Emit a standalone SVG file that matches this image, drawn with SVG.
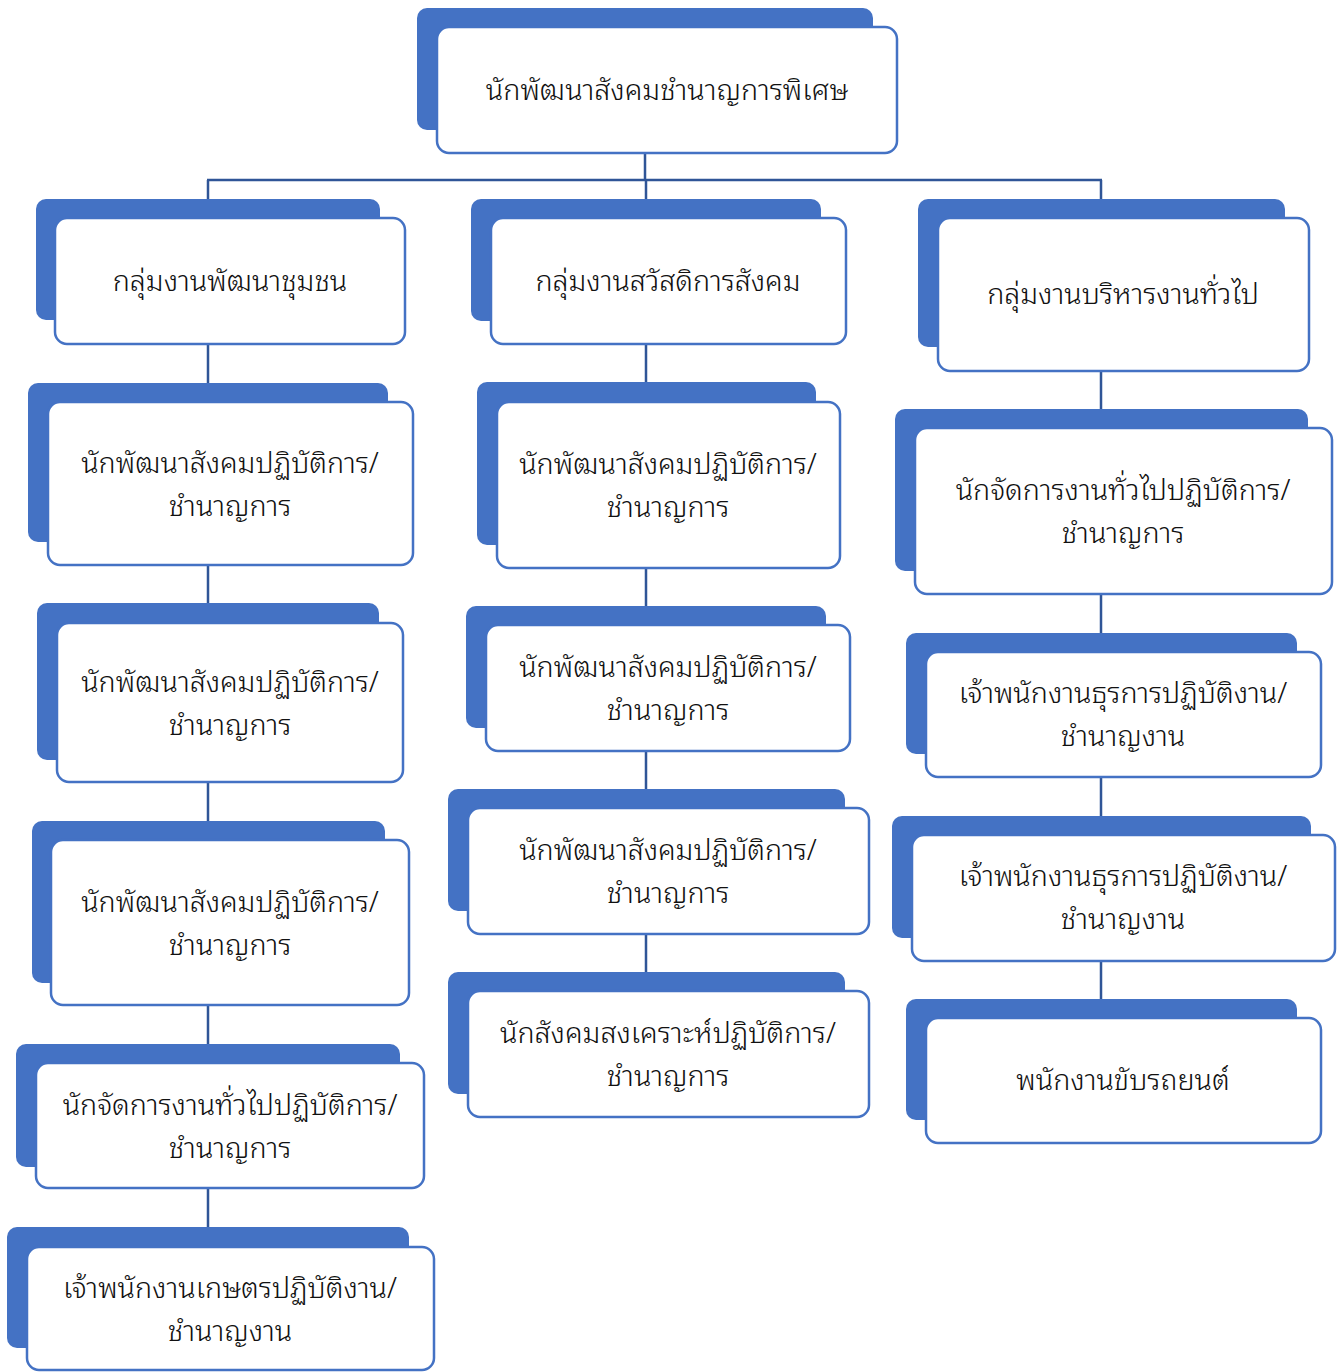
<svg xmlns="http://www.w3.org/2000/svg" width="1341" height="1372" viewBox="0 0 1341 1372">
<style>
.bk{fill:#4472C4;}
.fr{fill:#FFFFFF;stroke:#4472C4;stroke-width:2.5;}
.t{font-family:"Noto Sans Thai Looped","Noto Serif Thai","Noto Sans Thai","Noto Sans",sans-serif;font-size:28.7px;font-weight:300;fill:#111111;text-anchor:middle;}
.c{stroke:#2F5597;stroke-width:2.5;fill:none;}
</style>
<rect width="1341" height="1372" fill="#FFFFFF"/>
<g id="connectors">
<path class="c" d="M645 153V180M207 180H1102M208 180V199M646 180V199M1101 180V199"/>
<path class="c" d="M208 344V383M208 565V603M208 782V821M208 1005V1044M208 1188V1227"/>
<path class="c" d="M646 344V382M646 568V606M646 751V789M646 934V972"/>
<path class="c" d="M1101 371V409M1101 594V633M1101 777V816M1101 961V999"/>
</g>
<g id="n0"><rect class="bk" x="417" y="8" width="456" height="122" rx="10"/><rect class="fr" x="437" y="27" width="460" height="126" rx="12"/><text class="t" x="667" y="100">นักพัฒนาสังคมชำนาญการพิเศษ</text></g>
<g id="c1n1"><rect class="bk" x="36" y="199" width="344" height="121" rx="10"/><rect class="fr" x="55" y="218" width="350" height="126" rx="12"/><text class="t" x="230" y="291">กลุ่มงานพัฒนาชุมชน</text></g>
<g id="c1n2"><rect class="bk" x="28" y="383" width="360" height="159" rx="10"/><rect class="fr" x="48" y="402" width="365" height="163" rx="12"/><text class="t" x="230" y="473"><tspan x="230">นักพัฒนาสังคมปฏิบัติการ/</tspan><tspan x="230" y="516">ชำนาญการ</tspan></text></g>
<g id="c1n3"><rect class="bk" x="37" y="603" width="342" height="157" rx="10"/><rect class="fr" x="57" y="623" width="346" height="159" rx="12"/><text class="t" x="230" y="692"><tspan x="230">นักพัฒนาสังคมปฏิบัติการ/</tspan><tspan x="230" y="735">ชำนาญการ</tspan></text></g>
<g id="c1n4"><rect class="bk" x="32" y="821" width="353" height="162" rx="10"/><rect class="fr" x="51" y="840" width="358" height="165" rx="12"/><text class="t" x="230" y="912"><tspan x="230">นักพัฒนาสังคมปฏิบัติการ/</tspan><tspan x="230" y="955">ชำนาญการ</tspan></text></g>
<g id="c1n5"><rect class="bk" x="16" y="1044" width="384" height="123" rx="10"/><rect class="fr" x="36" y="1063" width="388" height="125" rx="12"/><text class="t" x="230" y="1115"><tspan x="230">นักจัดการงานทั่วไปปฏิบัติการ/</tspan><tspan x="230" y="1158">ชำนาญการ</tspan></text></g>
<g id="c1n6"><rect class="bk" x="7" y="1227" width="402" height="121" rx="10"/><rect class="fr" x="27" y="1247" width="407" height="123" rx="12"/><text class="t" x="230" y="1298"><tspan x="230">เจ้าพนักงานเกษตรปฏิบัติงาน/</tspan><tspan x="230" y="1341">ชำนาญงาน</tspan></text></g>
<g id="c2n1"><rect class="bk" x="471" y="199" width="350" height="122" rx="10"/><rect class="fr" x="491" y="218" width="355" height="126" rx="12"/><text class="t" x="668" y="291">กลุ่มงานสวัสดิการสังคม</text></g>
<g id="c2n2"><rect class="bk" x="477" y="382" width="339" height="163" rx="10"/><rect class="fr" x="497" y="402" width="343" height="166" rx="12"/><text class="t" x="668" y="474"><tspan x="668">นักพัฒนาสังคมปฏิบัติการ/</tspan><tspan x="668" y="517">ชำนาญการ</tspan></text></g>
<g id="c2n3"><rect class="bk" x="466" y="606" width="360" height="122" rx="10"/><rect class="fr" x="486" y="625" width="364" height="126" rx="12"/><text class="t" x="668" y="677"><tspan x="668">นักพัฒนาสังคมปฏิบัติการ/</tspan><tspan x="668" y="720">ชำนาญการ</tspan></text></g>
<g id="c2n4"><rect class="bk" x="448" y="789" width="397" height="122" rx="10"/><rect class="fr" x="468" y="808" width="401" height="126" rx="12"/><text class="t" x="668" y="860"><tspan x="668">นักพัฒนาสังคมปฏิบัติการ/</tspan><tspan x="668" y="903">ชำนาญการ</tspan></text></g>
<g id="c2n5"><rect class="bk" x="448" y="972" width="397" height="122" rx="10"/><rect class="fr" x="468" y="991" width="401" height="126" rx="12"/><text class="t" x="668" y="1043"><tspan x="668">นักสังคมสงเคราะห์ปฏิบัติการ/</tspan><tspan x="668" y="1086">ชำนาญการ</tspan></text></g>
<g id="c3n1"><rect class="bk" x="918" y="199" width="367" height="148" rx="10"/><rect class="fr" x="938" y="218" width="371" height="153" rx="12"/><text class="t" x="1123" y="304">กลุ่มงานบริหารงานทั่วไป</text></g>
<g id="c3n2"><rect class="bk" x="895" y="409" width="413" height="162" rx="10"/><rect class="fr" x="915" y="428" width="417" height="166" rx="12"/><text class="t" x="1123" y="500"><tspan x="1123">นักจัดการงานทั่วไปปฏิบัติการ/</tspan><tspan x="1123" y="543">ชำนาญการ</tspan></text></g>
<g id="c3n3"><rect class="bk" x="906" y="633" width="391" height="121" rx="10"/><rect class="fr" x="926" y="652" width="395" height="125" rx="12"/><text class="t" x="1123" y="703"><tspan x="1123">เจ้าพนักงานธุรการปฏิบัติงาน/</tspan><tspan x="1123" y="746">ชำนาญงาน</tspan></text></g>
<g id="c3n4"><rect class="bk" x="892" y="816" width="419" height="122" rx="10"/><rect class="fr" x="912" y="835" width="423" height="126" rx="12"/><text class="t" x="1123" y="886"><tspan x="1123">เจ้าพนักงานธุรการปฏิบัติงาน/</tspan><tspan x="1123" y="929">ชำนาญงาน</tspan></text></g>
<g id="c3n5"><rect class="bk" x="906" y="999" width="391" height="121" rx="10"/><rect class="fr" x="926" y="1018" width="395" height="125" rx="12"/><text class="t" x="1123" y="1090">พนักงานขับรถยนต์</text></g>
</svg>
